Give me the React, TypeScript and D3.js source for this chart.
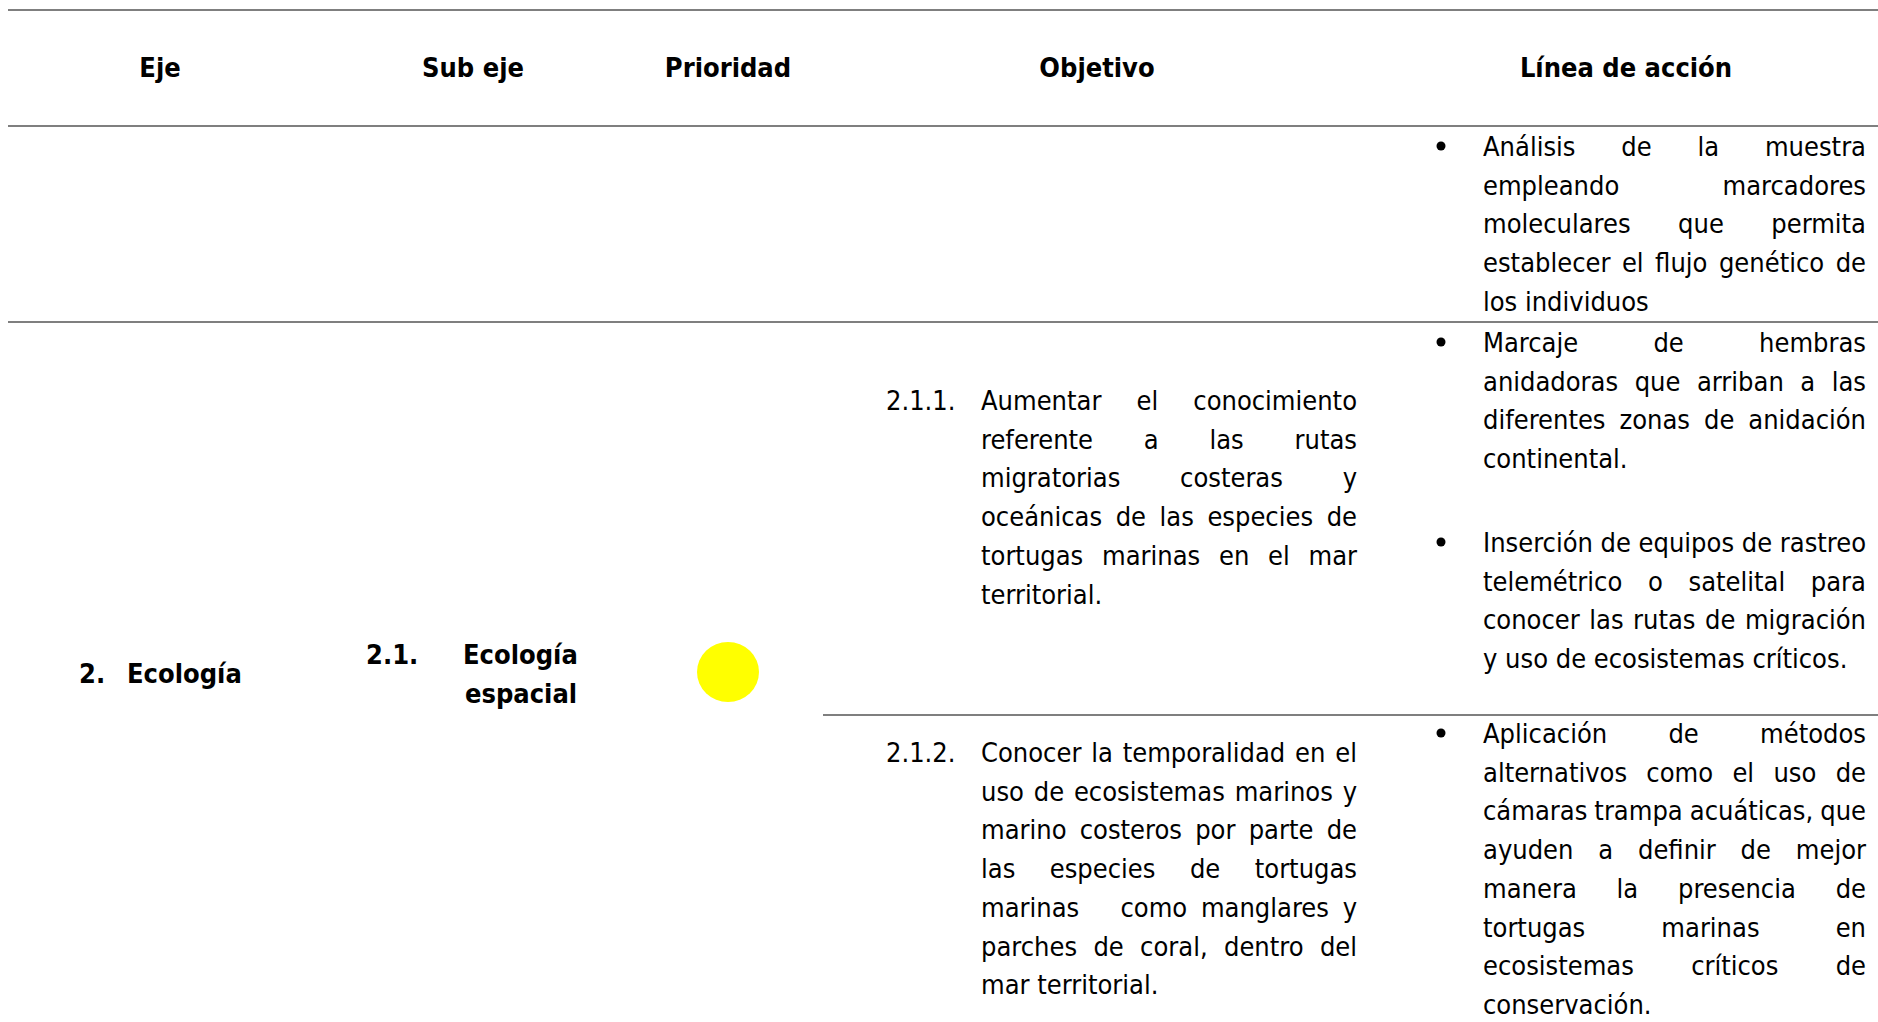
import React, { useEffect, useRef } from 'react';
import * as d3 from 'd3';

// table content
const headers = ['Eje', 'Sub eje', 'Prioridad', 'Objetivo', 'Línea de acción'];
const ejeLabel = ['2.', 'Ecología'];
const subEjeNumber = '2.1.';
const subEjeLines = ['Ecología', 'espacial'];
const priorityLevels = ['media'];
const objetivoNums = ['2.1.1.', '2.1.2.'];
const objetivo1Lines = [
  'Aumentar el conocimiento',
  'referente a las rutas',
  'migratorias costeras y',
  'oceánicas de las especies de',
  'tortugas marinas en el mar',
  'territorial.',
];
const objetivo2Lines = [
  'Conocer la temporalidad en el',
  'uso de ecosistemas marinos y',
  'marino costeros por parte de',
  'las especies de tortugas',
  'marinas   como manglares y',
  'parches de coral, dentro del',
  'mar territorial.',
];
const accionA = [
  'Análisis de la muestra',
  'empleando marcadores',
  'moleculares que permita',
  'establecer el flujo genético de',
  'los individuos',
];
const accionB = [
  'Marcaje de hembras',
  'anidadoras que arriban a las',
  'diferentes zonas de anidación',
  'continental.',
];
const accionC = [
  'Inserción de equipos de rastreo',
  'telemétrico o satelital para',
  'conocer las rutas de migración',
  'y uso de ecosistemas críticos.',
];
const accionD = [
  'Aplicación de métodos',
  'alternativos como el uso de',
  'cámaras trampa acuáticas, que',
  'ayuden a definir de mejor',
  'manera la presencia de',
  'tortugas marinas en',
  'ecosistemas críticos de',
  'conservación.',
];

const W = 1878;
const H = 1022;
const FONT = '"DejaVu Sans Condensed", "DejaVu Sans", sans-serif';
const SIZE = 27;
const LEAD = 38.7;

const App = () => {
  const ref = useRef(null);

  useEffect(() => {
    const svg = d3.select(ref.current);
    svg.selectAll('*').remove();

    const ctx = document.createElement('canvas').getContext('2d');
    const measure = (s, bold = false) => {
      ctx.font = `${bold ? 'bold ' : ''}${SIZE}px ${FONT}`;
      return ctx.measureText(s).width;
    };

    // horizontal rules
    const rules = [
      { x1: 8, x2: W, y: 10 },
      { x1: 8, x2: W, y: 126 },
      { x1: 8, x2: W, y: 322 },
      { x1: 823, x2: W, y: 715 },
    ];
    svg
      .selectAll('line.rule')
      .data(rules)
      .enter()
      .append('line')
      .attr('x1', (d) => d.x1)
      .attr('x2', (d) => d.x2)
      .attr('y1', (d) => d.y)
      .attr('y2', (d) => d.y)
      .attr('stroke', '#7f7f7f')
      .attr('stroke-width', 2);

    // headers
    const headerX = d3.scaleOrdinal().domain(headers).range([160, 473, 728, 1097, 1626]);
    svg
      .selectAll('text.header')
      .data(headers)
      .enter()
      .append('text')
      .attr('x', (d) => headerX(d))
      .attr('y', 77)
      .attr('text-anchor', 'middle')
      .attr('font-family', FONT)
      .attr('font-size', SIZE)
      .attr('font-weight', 'bold')
      .text((d) => d);

    const txt = (g, s, x, y, bold = false, anchor = 'start') =>
      g
        .append('text')
        .attr('x', x)
        .attr('y', y)
        .attr('text-anchor', anchor)
        .attr('font-family', FONT)
        .attr('font-size', SIZE)
        .attr('font-weight', bold ? 'bold' : 'normal')
        .text(s);

    // justified paragraph, last line left aligned
    const paragraph = (lines, left, right, y0) => {
      const g = svg.append('g');
      const y = d3.scaleLinear().domain([0, 1]).range([y0, y0 + LEAD]);
      const space = measure(' ');
      lines.forEach((line, i) => {
        const words = line.split(' ');
        const widths = words.map((w) => measure(w));
        const total = d3.sum(widths);
        const last = i === lines.length - 1;
        const gap = last || words.length < 2 ? space : (right - left - total) / (words.length - 1);
        let x = left;
        words.forEach((w, j) => {
          if (w) txt(g, w, x, y(i));
          x += widths[j] + gap;
        });
      });
    };

    // Eje
    txt(svg, ejeLabel[0], 79, 683, true);
    txt(svg, ejeLabel[1], 127, 683, true);

    // Sub eje
    txt(svg, subEjeNumber, 366, 664, true);
    subEjeLines.forEach((s, i) => txt(svg, s, 463 + i * 2, 664 + i * LEAD, true));

    // Prioridad
    const color = d3.scaleOrdinal().domain(['alta', 'media', 'baja']).range(['#ff0000', '#ffff00', '#00b050']);
    svg
      .selectAll('ellipse.prio')
      .data(priorityLevels)
      .enter()
      .append('ellipse')
      .attr('cx', 728)
      .attr('cy', 672)
      .attr('rx', 31)
      .attr('ry', 30)
      .attr('fill', (d) => color(d));

    // Objetivo
    txt(svg, objetivoNums[0], 886, 410);
    paragraph(objetivo1Lines, 981, 1357, 410);
    txt(svg, objetivoNums[1], 886, 762);
    paragraph(objetivo2Lines, 981, 1357, 762);

    // Línea de acción
    const blocks = [
      { lines: accionA, y: 156 },
      { lines: accionB, y: 352 },
      { lines: accionC, y: 552 },
      { lines: accionD, y: 743 },
    ];
    blocks.forEach((b) => {
      svg
        .append('circle')
        .attr('cx', 1441)
        .attr('cy', b.y - 10)
        .attr('r', 4.5)
        .attr('fill', '#000');
      paragraph(b.lines, 1483, 1866, b.y);
    });
  }, []);

  return (
    <svg
      ref={ref}
      width={W}
      height={H}
      style={{ position: 'absolute', left: 0, top: 0, background: '#fff' }}
    />
  );
};

export default App;
